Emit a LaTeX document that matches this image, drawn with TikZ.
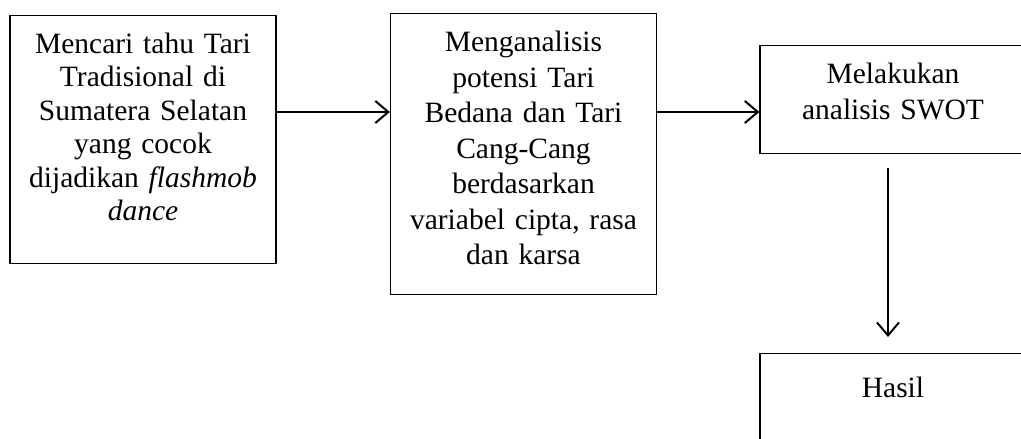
\documentclass[tikz,border=0pt]{standalone}
\usepackage{fontspec}
\setmainfont{Liberation Serif}
\usetikzlibrary{arrows.meta}

\begin{document}
\begin{tikzpicture}[
    x=1pt, y=-1pt,
    kotak/.style={draw, line width=1.2pt, anchor=north, align=center,
        text width=252pt, inner xsep=7pt, inner ysep=0pt, text height=38pt,
        font=\fontsize{29.5}{33.4}\selectfont},
    panah/.style={line width=2pt, -{Straight Barb[length=13pt, width=22pt, line width=2pt]}}
]
    \useasboundingbox (0,0) rectangle (1021,439);

    \node[kotak, text depth=210pt] (cari) at (143,15)
        {Mencari tahu Tari\\ Tradisional di\\ Sumatera Selatan\\ yang cocok\\
         dijadikan \textit{flashmob}\\ \textit{dance}};
    \node[kotak, text depth=243pt, font=\fontsize{29.5}{35.5}\selectfont] (analisis) at (523.5,13)
        {Menganalisis\\ potensi Tari\\ Bedana dan Tari\\ Cang-Cang\\ berdasarkan\\
         variabel cipta, rasa\\ dan karsa};
    \node[kotak, text depth=70pt, font=\fontsize{29.5}{36}\selectfont] (swot) at (893,45)
        {Melakukan\\ analisis SWOT};
    \node[kotak, text height=44pt, text depth=80pt] (hasil) at (893,353) {Hasil};

    \coordinate (jalur) at (0,112);
    \draw[panah] (cari.east |- jalur) -- (analisis.west |- jalur);
    \draw[panah] (analisis.east |- jalur) -- (swot.west |- jalur);
    \draw[panah, shorten <=14pt, shorten >=16pt] ([xshift=-5pt]swot.south) -- ([xshift=-5pt]hasil.north);
\end{tikzpicture}
\end{document}
